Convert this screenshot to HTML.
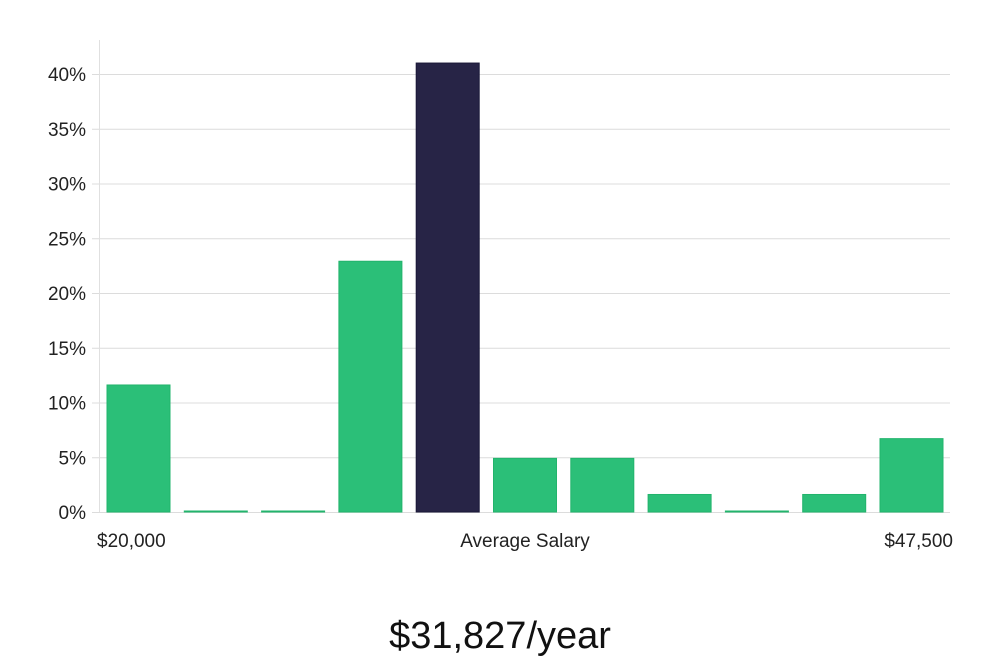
<!DOCTYPE html>
<html><head><meta charset="utf-8"><style>
body{margin:0;background:#fff;font-family:"Liberation Sans","DejaVu Sans",sans-serif;}
svg{display:block}
</style></head><body>
<svg id="chart" width="1000" height="660">
<g id="grid"></g>
<g id="bars"></g>
<line x1="99.5" y1="40" x2="99.5" y2="512" stroke="#e0e0e0"/>
<text x="97" y="547" font-size="19" fill="#222">$20,000</text>
<text x="525" y="547" font-size="19" fill="#222" text-anchor="middle">Average Salary</text>
<text x="953" y="547" font-size="19" fill="#222" text-anchor="end">$47,500</text>
<text x="500" y="648" font-size="38" fill="#111" text-anchor="middle">$31,827/year</text>
</svg>
<script>
const values = [11.6, 0, 0, 22.9, 41.0, 4.9, 4.9, 1.6, 0, 1.6, 6.7];
const highlight = [false, false, false, false, true, false, false, false, false, false, false];
const yTicks = [0, 5, 10, 15, 20, 25, 30, 35, 40];
const yTickLabels = ["0%", "5%", "10%", "15%", "20%", "25%", "30%", "35%", "40%"];

const NS = "http://www.w3.org/2000/svg";
const y0 = 512, pxPer = 10.95;
function yScale(v){ return y0 - v * pxPer; }
const x0 = 107, step = 77.3, bw = 63;
function xScale(i){ return x0 + i * step; }

const grid = document.getElementById("grid");
yTicks.forEach((t, i) => {
  const y = yScale(t);
  const l = document.createElementNS(NS, "line");
  l.setAttribute("x1", 92); l.setAttribute("x2", 950);
  l.setAttribute("y1", y + 0.5); l.setAttribute("y2", y + 0.5);
  l.setAttribute("stroke", "#dcdcdc");
  
  
  grid.appendChild(l);
  const tx = document.createElementNS(NS, "text");
  tx.setAttribute("x", 86); tx.setAttribute("y", y + 7);
  tx.setAttribute("text-anchor", "end");
  tx.setAttribute("font-size", "19"); tx.setAttribute("fill", "#222");
  tx.textContent = yTickLabels[i];
  
  
  grid.appendChild(tx);
});

const bars = document.getElementById("bars");
values.forEach((v, i) => {
  const r = document.createElementNS(NS, "rect");
  const top = yScale(v);
  const h = Math.max(1, y0 - top);
  r.setAttribute("x", xScale(i));
  r.setAttribute("y", y0 - h);
  r.setAttribute("width", bw);
  r.setAttribute("height", h);
  r.setAttribute("fill", highlight[i] ? "#272446" : "#2bbf78");
  r.setAttribute("stroke", highlight[i] ? "#1a1838" : "#22b46c");
  r.setAttribute("stroke-width", "1");
  
  
  bars.appendChild(r);
});
</script>
</body></html>
